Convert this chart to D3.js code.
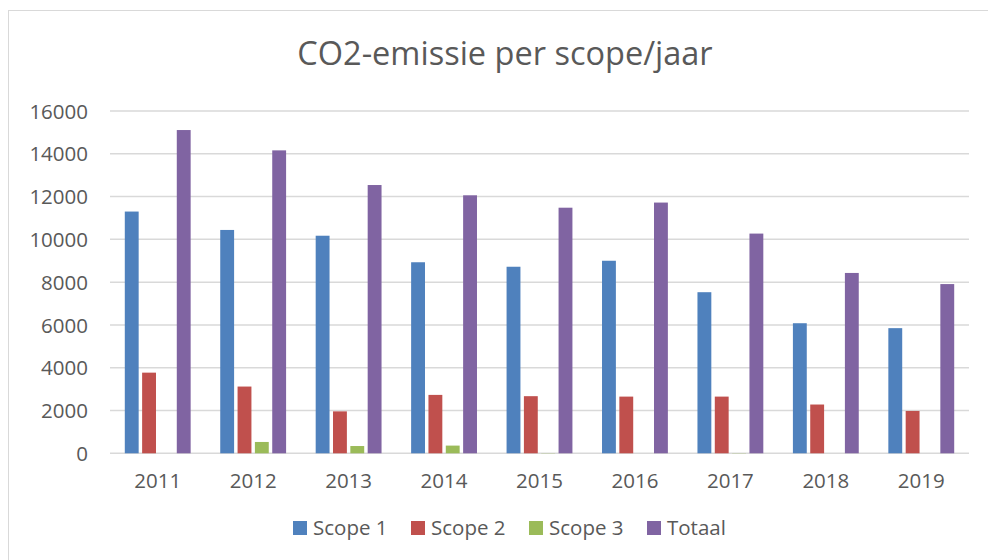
<!DOCTYPE html>
<html>
<head>
<meta charset="utf-8">
<script src="https://d3js.org/d3.v7.min.js"></script>
<style>
  body { margin: 0; background: #fff; }
  svg text { font-family: "Open Sans", sans-serif; fill: #595959; }
</style>
</head>
<body>
<div id="chart"></div>
<script>
// chart data
const years = ['2011', '2012', '2013', '2014', '2015', '2016', '2017', '2018', '2019'];
const seriesNames = ['Scope 1', 'Scope 2', 'Scope 3', 'Totaal'];
const scope1 = [11300, 10440, 10170, 8930, 8720, 9000, 7530, 6080, 5850];
const scope2 = [3770, 3120, 1960, 2730, 2670, 2650, 2650, 2280, 1980];
const scope3 = [0, 530, 340, 360, 10, 0, 10, 0, 0];
const totaal = [15110, 14160, 12540, 12060, 11480, 11720, 10270, 8430, 7910];
const yTicks = [0, 2000, 4000, 6000, 8000, 10000, 12000, 14000, 16000];
const colors = ['#4F81BD', '#C0504D', '#9BBB59', '#8064A2'];

const values = [scope1, scope2, scope3, totaal];

const width = 988, height = 560;
const margin = { top: 111, right: 19, bottom: 106, left: 110 };

const svg = d3.select('#chart')
  .append('svg')
  .attr('width', width)
  .attr('height', height);

// chart border
svg.append('rect')
  .attr('x', 8.5).attr('y', 10.5)
  .attr('width', width).attr('height', height)
  .attr('fill', 'none')
  .attr('stroke', '#d9d9d9')
  .attr('stroke-width', 1);

svg.append('text')
  .attr('x', 505)
  .attr('y', 65)
  .attr('text-anchor', 'middle')
  .style('font-size', '32.5px')
  .text('CO2-emissie per scope/jaar');

const x = d3.scaleBand()
  .domain(years)
  .range([margin.left, width - margin.right])
  .paddingInner(0.31)
  .paddingOuter(0.155);

const xInner = d3.scaleBand()
  .domain(seriesNames)
  .range([0, x.bandwidth()])
  .paddingInner(0.2);

const y = d3.scaleLinear()
  .domain([0, 16000])
  .range([height - margin.bottom - 0.7, margin.top]);

// gridlines
svg.append('g')
  .selectAll('line')
  .data(yTicks)
  .enter()
  .append('line')
  .attr('x1', margin.left)
  .attr('x2', width - margin.right)
  .attr('y1', (d) => y(d))
  .attr('y2', (d) => y(d))
  .attr('stroke', '#d9d9d9')
  .attr('stroke-width', 1.5);

// y axis labels
const yAxis = svg.append('g')
  .attr('transform', `translate(${margin.left - 22},0)`)
  .call(d3.axisLeft(y).tickValues(yTicks).tickSize(0).tickPadding(0).tickFormat(d3.format('d')));
yAxis.select('.domain').remove();
yAxis.selectAll('text')
  .style('font-size', '20.5px')
  .attr('dy', '0.35em');

// bars
const groups = svg.append('g')
  .selectAll('g')
  .data(years)
  .enter()
  .append('g')
  .attr('transform', (d) => `translate(${x(d)},0)`);

groups.selectAll('rect')
  .data((d, i) => seriesNames.map((s, j) => ({ s, v: values[j][i], c: colors[j] })))
  .enter()
  .append('rect')
  .attr('x', (d) => xInner(d.s))
  .attr('width', xInner.bandwidth())
  .attr('y', (d) => y(d.v))
  .attr('height', (d) => y(0) - y(d.v))
  .attr('fill', (d) => d.c);

// x axis labels
const xAxis = svg.append('g')
  .attr('transform', `translate(0,${y(0) + 20})`)
  .call(d3.axisBottom(x).tickSize(0).tickPadding(0));
xAxis.select('.domain').remove();
xAxis.selectAll('text')
  .style('font-size', '20.5px')
  .attr('dy', '0.71em');

// legend
const legend = svg.append('g')
  .selectAll('g')
  .data(seriesNames)
  .enter()
  .append('g')
  .attr('transform', (d, i) => `translate(${293 + i * 118},521)`);

legend.append('rect')
  .attr('width', 14)
  .attr('height', 14)
  .attr('fill', (d, i) => colors[i]);

legend.append('text')
  .attr('x', 20)
  .attr('y', 7)
  .attr('dy', '0.35em')
  .style('font-size', '20.5px')
  .text((d) => d);
</script>
</body>
</html>
